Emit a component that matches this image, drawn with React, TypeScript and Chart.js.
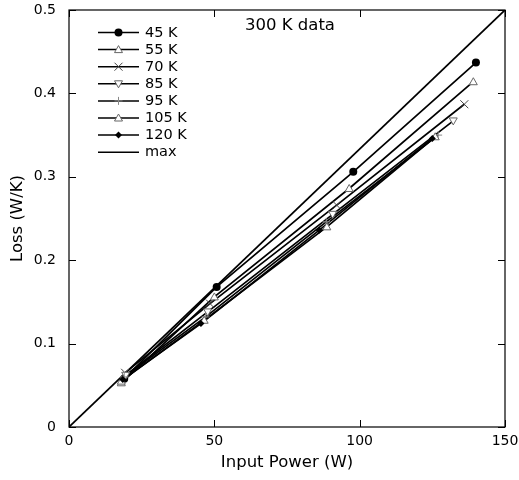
import React, { useEffect, useRef } from "react";
import { Chart, registerables } from "chart.js";

Chart.register(...registerables);

const seriesNames = ["45 K", "55 K", "70 K", "85 K", "95 K", "105 K", "120 K"];
const power45 = [19, 50.8, 97.8, 140.0];
const loss45 = [0.058, 0.168, 0.306, 0.437];
const power55 = [18, 50.0, 96.4, 139.1];
const loss55 = [0.053, 0.156, 0.286, 0.414];
const power70 = [19.3, 48.5, 92.1, 136.0];
const loss70 = [0.065, 0.148, 0.266, 0.387];
const power85 = [19.5, 47.7, 90.7, 132.2];
const loss85 = [0.062, 0.138, 0.255, 0.367];
const power95 = [19, 47.0, 88.5, 127.0];
const loss95 = [0.06, 0.132, 0.246, 0.35];
const power105 = [18, 46.5, 88.7, 126.0];
const loss105 = [0.055, 0.128, 0.24, 0.348];
const power120 = [18.5, 45.4, 86.1, 125.0];
const loss120 = [0.057, 0.124, 0.236, 0.346];
const maxPower = [0, 150];
const maxLoss = [0, 0.5];
const titleText = "300 K data";

const FONT = "'DejaVu Sans', sans-serif";

type Marker = "circle" | "triUp" | "cross" | "triDown" | "plus" | "diamond" | "none";
const markers: Marker[] = ["circle", "triUp", "cross", "triDown", "plus", "triUp", "diamond"];

function drawMarker(ctx: CanvasRenderingContext2D, m: Marker, x: number, y: number) {
  ctx.save();
  ctx.lineWidth = 1;
  ctx.strokeStyle = "#000";
  ctx.fillStyle = "#000";
  if (m === "circle") {
    ctx.beginPath();
    ctx.arc(x, y, 4, 0, Math.PI * 2);
    ctx.fill();
  } else if (m === "triUp" || m === "triDown") {
    const s = m === "triUp" ? 1 : -1;
    ctx.strokeStyle = "#666";
    ctx.fillStyle = "#fff";
    ctx.beginPath();
    ctx.moveTo(x, y - 4 * s);
    ctx.lineTo(x + 4, y + 3 * s);
    ctx.lineTo(x - 4, y + 3 * s);
    ctx.closePath();
    ctx.fill();
    ctx.stroke();
  } else if (m === "cross") {
    ctx.strokeStyle = "#444";
    ctx.beginPath();
    ctx.moveTo(x - 4, y - 4);
    ctx.lineTo(x + 4, y + 4);
    ctx.moveTo(x + 4, y - 4);
    ctx.lineTo(x - 4, y + 4);
    ctx.stroke();
  } else if (m === "plus") {
    ctx.strokeStyle = "#888";
    ctx.beginPath();
    ctx.moveTo(x - 4, y);
    ctx.lineTo(x + 4, y);
    ctx.moveTo(x, y - 4);
    ctx.lineTo(x, y + 4);
    ctx.stroke();
  } else if (m === "diamond") {
    ctx.beginPath();
    ctx.moveTo(x, y - 3.5);
    ctx.lineTo(x + 3.5, y);
    ctx.lineTo(x, y + 3.5);
    ctx.lineTo(x - 3.5, y);
    ctx.closePath();
    ctx.fill();
  }
  ctx.restore();
}

function toPts(xs: number[], ys: number[]) {
  return xs.map((x, i) => ({ x, y: ys[i] }));
}

const overlayPlugin = {
  id: "overlay",
  afterDatasetsDraw(chart: any) {
    const ctx: CanvasRenderingContext2D = chart.ctx;
    const a = chart.chartArea;
    const xs = chart.scales.x;
    const ys = chart.scales.y;
    ctx.save();
    chart.data.datasets.forEach((ds: any) => {
      const m: Marker = ds.markerType;
      if (!m || m === "none") return;
      ds.data.forEach((p: any) => {
        drawMarker(ctx, m, xs.getPixelForValue(p.x), ys.getPixelForValue(p.y));
      });
    });
    ctx.strokeStyle = "#000";
    ctx.lineWidth = 1.2;
    ctx.strokeRect(a.left, a.top, a.right - a.left, a.bottom - a.top);
    const tl = 7;
    ctx.beginPath();
    xs.ticks.forEach((t: any) => {
      const px = Math.round(xs.getPixelForValue(t.value)) + 0.5;
      ctx.moveTo(px, a.bottom);
      ctx.lineTo(px, a.bottom - tl);
      ctx.moveTo(px, a.top);
      ctx.lineTo(px, a.top + tl);
    });
    ys.ticks.forEach((t: any) => {
      const py = Math.round(ys.getPixelForValue(t.value)) + 0.5;
      ctx.moveTo(a.left, py);
      ctx.lineTo(a.left + tl, py);
      ctx.moveTo(a.right, py);
      ctx.lineTo(a.right - tl, py);
    });
    ctx.lineWidth = 1;
    ctx.stroke();
    ctx.fillStyle = "#000";
    ctx.font = `16.5px ${FONT}`;
    ctx.textAlign = "center";
    ctx.textBaseline = "middle";
    ctx.fillText(titleText, 290, 26);
    const labels = [...seriesNames, "max"];
    const legMarkers: Marker[] = [...markers, "none"];
    const x0 = 98, x1 = 139, y0 = 32.5, dy = 17.1;
    labels.forEach((lab, i) => {
      const y = y0 + i * dy;
      ctx.beginPath();
      ctx.strokeStyle = "#000";
      ctx.lineWidth = 1.5;
      ctx.moveTo(x0, y);
      ctx.lineTo(x1, y);
      ctx.stroke();
      drawMarker(ctx, legMarkers[i], (x0 + x1) / 2, y);
      ctx.fillStyle = "#000";
      ctx.font = `14.5px ${FONT}`;
      ctx.textAlign = "left";
      ctx.textBaseline = "middle";
      ctx.fillText(lab, 145, y + 0.5);
    });
    ctx.restore();
  },
};

export default function App() {
  const ref = useRef<HTMLCanvasElement | null>(null);
  useEffect(() => {
    if (!ref.current) return;
    const powers = [power45, power55, power70, power85, power95, power105, power120];
    const losses = [loss45, loss55, loss70, loss85, loss95, loss105, loss120];
    const datasets: any[] = seriesNames.map((name, i) => ({
      label: name,
      data: toPts(powers[i], losses[i]),
      borderColor: "#000",
      borderWidth: 1.7,
      pointRadius: 0,
      showLine: true,
      tension: 0,
      markerType: markers[i],
    }));
    datasets.push({
      label: "max",
      data: toPts(maxPower, maxLoss),
      borderColor: "#000",
      borderWidth: 1.7,
      pointRadius: 0,
      showLine: true,
      tension: 0,
      markerType: "none",
    });
    const chart = new Chart(ref.current, {
      type: "scatter",
      data: { datasets },
      options: {
        animation: false,
        responsive: false,
        maintainAspectRatio: false,
        layout: { padding: { left: 0, right: 0, top: 0, bottom: 0 } },
        plugins: { legend: { display: false }, tooltip: { enabled: false } },
        scales: {
          x: {
            type: "linear",
            min: 0,
            max: 150,
            grid: { display: false, drawTicks: false },
            border: { display: false },
            ticks: { stepSize: 50, padding: 6, color: "#000", font: { family: FONT, size: 14 } },
            title: {
              display: true,
              text: "Input Power (W)",
              color: "#000",
              font: { family: FONT, size: 16.5 },
              padding: { top: 0, bottom: 7 },
            },
            afterFit: (s: any) => {
              s.height = 53;
              s.paddingRight = 14;
            },
          },
          y: {
            type: "linear",
            min: 0,
            max: 0.5,
            grid: { display: false, drawTicks: false },
            border: { display: false },
            ticks: { stepSize: 0.1, padding: 13, color: "#000", font: { family: FONT, size: 14 } },
            title: {
              display: true,
              text: "Loss (W/K)",
              color: "#000",
              font: { family: FONT, size: 16.5 },
              padding: { top: 8, bottom: 0 },
            },
            afterFit: (s: any) => {
              s.width = 69;
              s.paddingTop = 10;
            },
          },
        },
      } as any,
      plugins: [overlayPlugin],
    });
    return () => chart.destroy();
  }, []);
  return (
    <div style={{ position: "fixed", left: 0, top: 0, width: 519, height: 480, background: "#fff" }}>
      <canvas ref={ref} width={519} height={480} style={{ width: 519, height: 480 }} />
    </div>
  );
}
